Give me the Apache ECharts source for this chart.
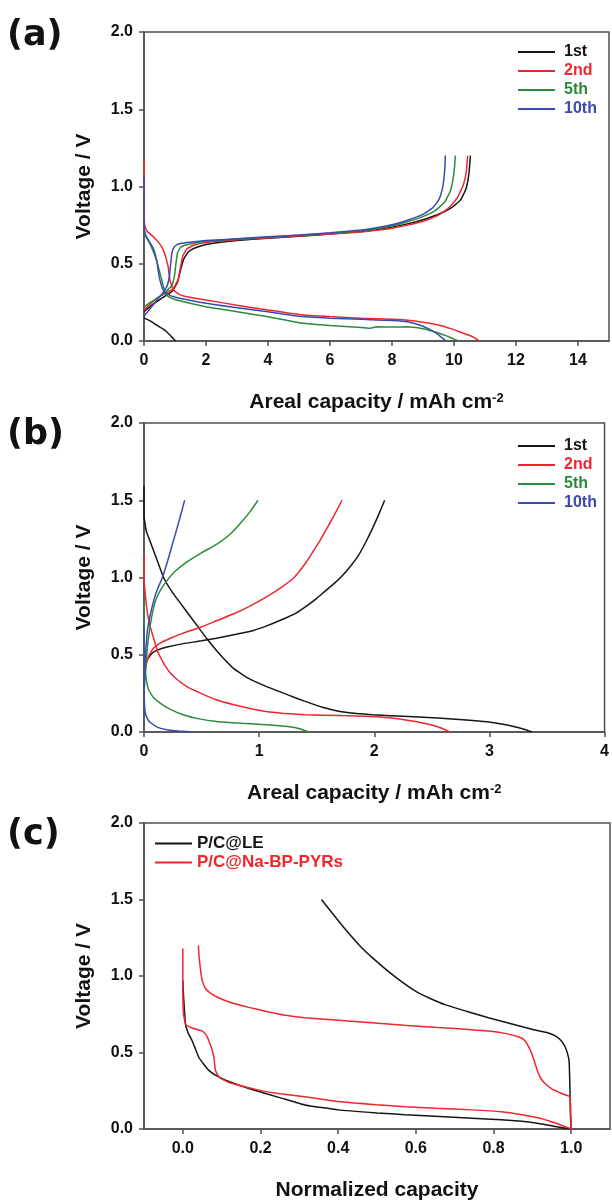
<!DOCTYPE html>
<html><head><meta charset="utf-8">
<script src="https://cdn.jsdelivr.net/npm/echarts@6/dist/echarts.min.js"></script>
<style>html,body{margin:0;padding:0;background:#fff}#c{width:612px;height:1202px}</style>
</head><body><div id="c"></div>
<script>
// ---------- tick labels ----------
var yTicks = [0, 0.5, 1.0, 1.5, 2.0];
var aXTicks = [0, 2, 4, 6, 8, 10, 12, 14];
var bXTicks = [0, 1, 2, 3, 4];
var cXTicks = [0, 0.2, 0.4, 0.6, 0.8, 1.0];

var cycleNames = ['1st', '2nd', '5th', '10th'];
var cNames = ['P/C@LE', 'P/C@Na-BP-PYRs'];

// ---------- panel (a): [capacity mAh/cm2, voltage V] ----------
var a1stDis = [[0,0.15],[0.2,0.13],[0.4,0.104],[0.6,0.08],[0.73,0.06],[0.85,0.035],[0.95,0.015],[1.02,0]];
var a1stChg = [[0,0.19],[0.3,0.24],[0.6,0.28],[0.9,0.32],[1.08,0.38],[1.18,0.46],[1.28,0.53],[1.42,0.575],[1.62,0.6],[2,0.625],[3,0.65],[4,0.665],[5,0.678],[6,0.692],[7,0.708],[7.5,0.72],[8,0.737],[8.5,0.758],[9,0.785],[9.5,0.82],[9.9,0.86],[10.2,0.91],[10.38,0.98],[10.48,1.08],[10.53,1.2]];
var a2ndDis = [[0,1.18],[0,0.9],[0.02,0.75],[0.1,0.71],[0.3,0.675],[0.5,0.63],[0.62,0.59],[0.72,0.53],[0.78,0.48],[0.84,0.39],[0.95,0.33],[1.15,0.3],[1.38,0.287],[2,0.265],[3,0.232],[4,0.2],[5,0.172],[6,0.158],[7,0.148],[8,0.14],[8.5,0.135],[9,0.122],[9.5,0.104],[9.9,0.08],[10.2,0.058],[10.45,0.04],[10.65,0.022],[10.82,0]];
var a2ndChg = [[0,0.2],[0.2,0.24],[0.45,0.28],[0.7,0.31],[0.95,0.34],[1.1,0.4],[1.18,0.48],[1.25,0.55],[1.38,0.595],[1.6,0.62],[2,0.638],[3,0.655],[4,0.667],[5,0.679],[6,0.692],[7,0.705],[7.5,0.716],[8,0.73],[8.5,0.75],[9,0.775],[9.5,0.815],[9.85,0.865],[10.1,0.925],[10.3,1.01],[10.4,1.1],[10.44,1.2]];
var a5thDis = [[0,0.72],[0.05,0.68],[0.19,0.63],[0.3,0.58],[0.41,0.52],[0.5,0.45],[0.58,0.39],[0.68,0.31],[0.8,0.285],[1.05,0.265],[2,0.222],[3,0.19],[4,0.157],[5,0.118],[6,0.1],[7,0.088],[7.3,0.082],[7.5,0.092],[8,0.09],[8.5,0.092],[9,0.08],[9.5,0.052],[9.8,0.03],[10.0,0.012],[10.17,0]];
var a5thChg = [[0,0.22],[0.2,0.25],[0.45,0.28],[0.7,0.32],[0.9,0.36],[0.98,0.42],[1.03,0.5],[1.08,0.57],[1.18,0.607],[1.35,0.622],[2,0.645],[3,0.66],[4,0.672],[5,0.684],[6,0.697],[7,0.713],[7.5,0.727],[8,0.745],[8.5,0.772],[9,0.805],[9.4,0.845],[9.7,0.9],[9.88,0.97],[9.97,1.05],[10.02,1.13],[10.04,1.2]];
var a10thDis = [[0,1.06],[0,0.8],[0.03,0.7],[0.14,0.653],[0.3,0.6],[0.41,0.52],[0.47,0.44],[0.52,0.39],[0.62,0.33],[0.75,0.305],[0.95,0.287],[2,0.244],[3,0.215],[4,0.19],[5,0.16],[6,0.148],[7,0.14],[8,0.132],[8.5,0.124],[9,0.095],[9.3,0.065],[9.5,0.04],[9.65,0.015],[9.74,0]];
var a10thChg = [[0,0.16],[0.2,0.21],[0.4,0.26],[0.6,0.31],[0.75,0.36],[0.82,0.42],[0.86,0.5],[0.9,0.57],[0.98,0.61],[1.1,0.628],[1.4,0.638],[2,0.65],[3,0.662],[4,0.674],[5,0.686],[6,0.7],[7,0.718],[7.5,0.733],[8,0.752],[8.5,0.782],[9,0.82],[9.3,0.86],[9.5,0.91],[9.62,0.98],[9.68,1.06],[9.71,1.14],[9.72,1.2]];

// ---------- panel (b) ----------
var b1stDis = [[0,1.59],[0,1.4],[0.02,1.3],[0.06,1.22],[0.115,1.11],[0.17,1.0],[0.25,0.9],[0.37,0.78],[0.46,0.69],[0.55,0.6],[0.65,0.51],[0.78,0.41],[0.9,0.35],[1.06,0.295],[1.25,0.24],[1.4,0.198],[1.55,0.16],[1.69,0.135],[1.85,0.12],[1.98,0.112],[2.3,0.1],[2.55,0.09],[2.8,0.078],[2.98,0.066],[3.12,0.05],[3.21,0.036],[3.3,0.018],[3.37,0]];
var b1stChg = [[0,0.3],[0.01,0.4],[0.03,0.47],[0.07,0.51],[0.115,0.53],[0.2,0.55],[0.34,0.572],[0.5,0.59],[0.63,0.607],[0.8,0.632],[0.95,0.657],[1.06,0.685],[1.2,0.728],[1.32,0.77],[1.42,0.82],[1.5,0.865],[1.57,0.91],[1.65,0.96],[1.72,1.01],[1.79,1.07],[1.86,1.14],[1.92,1.22],[1.98,1.31],[2.04,1.41],[2.09,1.5]];
var b2ndDis = [[0,1.15],[0,1.0],[0.01,0.9],[0.03,0.77],[0.055,0.68],[0.086,0.6],[0.12,0.52],[0.17,0.446],[0.22,0.39],[0.29,0.338],[0.38,0.29],[0.49,0.252],[0.62,0.21],[0.78,0.176],[0.92,0.152],[1.06,0.133],[1.2,0.122],[1.4,0.112],[1.7,0.106],[1.98,0.1],[2.15,0.09],[2.26,0.08],[2.4,0.062],[2.49,0.047],[2.58,0.026],[2.66,0]];
var b2ndChg = [[0,0.3],[0.01,0.4],[0.04,0.49],[0.08,0.54],[0.14,0.575],[0.24,0.61],[0.34,0.64],[0.5,0.68],[0.63,0.72],[0.78,0.765],[0.92,0.815],[1.06,0.873],[1.2,0.94],[1.29,0.99],[1.35,1.04],[1.41,1.1],[1.47,1.17],[1.53,1.24],[1.59,1.32],[1.65,1.4],[1.72,1.5]];
var b5thDis = [[0,0.88],[0,0.6],[0.01,0.42],[0.02,0.34],[0.04,0.273],[0.08,0.225],[0.14,0.187],[0.22,0.15],[0.34,0.112],[0.48,0.085],[0.63,0.068],[0.85,0.056],[1.06,0.047],[1.25,0.035],[1.36,0.02],[1.43,0]];
var b5thChg = [[0,0.25],[0.01,0.36],[0.02,0.46],[0.03,0.553],[0.05,0.67],[0.073,0.77],[0.1,0.85],[0.144,0.92],[0.2,0.98],[0.27,1.04],[0.37,1.1],[0.5,1.16],[0.63,1.215],[0.74,1.275],[0.83,1.345],[0.92,1.425],[0.99,1.5]];
var b10thDis = [[0,0.68],[0,0.35],[0.003,0.2],[0.01,0.13],[0.03,0.085],[0.06,0.058],[0.12,0.03],[0.2,0.015],[0.3,0.006],[0.43,0]];
var b10thChg = [[0,0.25],[0.005,0.4],[0.015,0.52],[0.03,0.66],[0.055,0.76],[0.086,0.855],[0.12,0.93],[0.16,1.0],[0.21,1.12],[0.26,1.25],[0.31,1.38],[0.353,1.5]];

// ---------- panel (c): [normalized capacity, voltage V] ----------
var cLEDis = [[0,0.97],[0.002,0.86],[0.007,0.684],[0.015,0.62],[0.024,0.577],[0.041,0.469],[0.055,0.42],[0.067,0.383],[0.085,0.35],[0.11,0.319],[0.17,0.265],[0.256,0.2],[0.314,0.157],[0.4,0.125],[0.5,0.105],[0.572,0.093],[0.65,0.083],[0.744,0.071],[0.82,0.06],[0.873,0.05],[0.92,0.035],[0.959,0.017],[0.997,0]];
var cLEChg = [[1.0,0],[0.998,0.1],[0.997,0.25],[0.996,0.35],[0.995,0.43],[0.993,0.47],[0.985,0.534],[0.975,0.575],[0.959,0.609],[0.935,0.632],[0.899,0.652],[0.85,0.685],[0.787,0.727],[0.73,0.77],[0.675,0.813],[0.64,0.85],[0.6,0.9],[0.565,0.96],[0.529,1.03],[0.49,1.115],[0.455,1.2],[0.42,1.3],[0.385,1.41],[0.357,1.5]];
var cNaDis = [[0,1.18],[0,0.9],[0.002,0.75],[0.007,0.684],[0.024,0.66],[0.05,0.64],[0.06,0.615],[0.067,0.577],[0.075,0.52],[0.08,0.469],[0.084,0.383],[0.093,0.34],[0.11,0.315],[0.127,0.297],[0.196,0.254],[0.25,0.23],[0.314,0.211],[0.4,0.179],[0.5,0.158],[0.572,0.146],[0.65,0.136],[0.744,0.125],[0.82,0.112],[0.873,0.093],[0.92,0.07],[0.959,0.039],[0.985,0.015],[1.0,0]];
var cNaChg = [[1.0,0],[0.999,0.1],[0.998,0.19],[0.997,0.211],[0.976,0.232],[0.95,0.262],[0.933,0.297],[0.922,0.33],[0.916,0.361],[0.908,0.42],[0.899,0.49],[0.89,0.54],[0.881,0.577],[0.869,0.598],[0.83,0.625],[0.787,0.641],[0.72,0.653],[0.658,0.663],[0.57,0.678],[0.486,0.695],[0.4,0.71],[0.314,0.727],[0.26,0.745],[0.213,0.77],[0.17,0.795],[0.127,0.824],[0.093,0.856],[0.07,0.89],[0.058,0.92],[0.05,0.97],[0.046,1.03],[0.042,1.12],[0.04,1.2]];

// ---------- styling ----------
var COL = {'1st':'#151515','2nd':'#f0262c','5th':'#2b8a3b','10th':'#3b48b0','P/C@LE':'#151515','P/C@Na-BP-PYRs':'#f0262c'};
var AX = '#505050';
var FONT = 'Liberation Sans, Arial, sans-serif';

function fmt1(v){ return v.toFixed(1); }

function xAxisCfg(grid, min, max, ticks, name, labelFmt){
  return {
    type:'value', gridIndex:grid, min:min, max:max,
    name:name, nameLocation:'middle', nameGap:51,
    nameTextStyle:{fontFamily:FONT, fontWeight:'bold', fontSize:21, color:'#111',
      rich:{sup:{fontFamily:FONT, fontWeight:'bold', fontSize:13, color:'#111', verticalAlign:'top', lineHeight:13}}},
    axisLine:{show:true, onZero:false, lineStyle:{color:AX, width:1.5}},
    axisTick:{show:true, length:5, customValues:ticks, lineStyle:{color:AX, width:1.5}},
    axisLabel:{customValues:ticks, formatter:labelFmt, margin:12, fontFamily:FONT, fontWeight:'bold', fontSize:16, color:'#111'},
    splitLine:{show:false}
  };
}
function yAxisCfg(grid){
  return {
    type:'value', gridIndex:grid, min:0, max:2,
    name:'Voltage / V', nameLocation:'middle', nameGap:49,
    nameTextStyle:{fontFamily:FONT, fontWeight:'bold', fontSize:21, color:'#111'},
    axisLine:{show:true, onZero:false, lineStyle:{color:AX, width:1.5}},
    axisTick:{show:true, length:5, customValues:yTicks, lineStyle:{color:AX, width:1.5}},
    axisLabel:{customValues:yTicks, formatter:fmt1, margin:11, fontFamily:FONT, fontWeight:'bold', fontSize:16, color:'#111'},
    splitLine:{show:false}
  };
}
function ser(name, data, ai){
  return {type:'line', name:name, data:data, xAxisIndex:ai, yAxisIndex:ai,
    symbol:'none', showSymbol:false, smooth:0.12, clip:true,
    lineStyle:{color:COL[name], width:1.5}, itemStyle:{color:COL[name]}};
}
function legendCfg(names, left, top, gap, fs, pad){
  return {
    orient:'vertical', left:left, top:top, itemGap:gap, icon:'rect', itemWidth:37, itemHeight:2,
    itemStyle:{borderWidth:0},
    data:names.map(function(n){ return {name:n, textStyle:{color:COL[n]}}; }),
    textStyle:{fontFamily:FONT, fontWeight:'bold', fontSize:fs, padding:[0,0,0,pad]}
  };
}

var series = [
  ser('1st', a1stDis, 0), ser('1st', a1stChg, 0),
  ser('2nd', a2ndDis, 0), ser('2nd', a2ndChg, 0),
  ser('5th', a5thDis, 0), ser('5th', a5thChg, 0),
  ser('10th', a10thDis, 0), ser('10th', a10thChg, 0),
  ser('1st', b1stDis, 1), ser('1st', b1stChg, 1),
  ser('2nd', b2ndDis, 1), ser('2nd', b2ndChg, 1),
  ser('5th', b5thDis, 1), ser('5th', b5thChg, 1),
  ser('10th', b10thDis, 1), ser('10th', b10thChg, 1),
  ser('P/C@LE', cLEDis, 2), ser('P/C@LE', cLEChg, 2),
  ser('P/C@Na-BP-PYRs', cNaDis, 2), ser('P/C@Na-BP-PYRs', cNaChg, 2)
];

var arealName = 'Areal capacity / mAh cm{sup|-2}';
var option = {
  animation:false,
  backgroundColor:'#fff',
  grid:[
    {left:144, top:32, width:465, height:309, show:true, borderColor:AX, borderWidth:1.5, backgroundColor:'transparent'},
    {left:144, top:423, width:464, height:309, show:true, borderColor:AX, borderWidth:1.5, backgroundColor:'transparent'},
    {left:144, top:823, width:466, height:310, show:true, borderColor:AX, borderWidth:1.5, backgroundColor:'transparent'}
  ],
  xAxis:[
    xAxisCfg(0, 0, 15, aXTicks, arealName, function(v){return String(v);}),
    xAxisCfg(1, 0, 4, bXTicks, arealName, function(v){return String(v);}),
    xAxisCfg(2, -0.1, 1.1, cXTicks, 'Normalized capacity', fmt1)
  ],
  yAxis:[yAxisCfg(0), yAxisCfg(1), yAxisCfg(2)],
  legend:[
    legendCfg(cycleNames, 513, 39, 3, 16, 4),
    legendCfg(cycleNames, 513, 433, 3, 16, 4),
    legendCfg(cNames, 150, 830, 2, 17, 0)
  ],
  graphic:[
    {type:'text', left:7, top:18, style:{text:'(a)', font:'bold 35px "DejaVu Sans"', fill:'#111'}},
    {type:'text', left:7, top:417, style:{text:'(b)', font:'bold 35px "DejaVu Sans"', fill:'#111'}},
    {type:'text', left:7, top:817, style:{text:'(c)', font:'bold 35px "DejaVu Sans"', fill:'#111'}}
  ],
  series:series
};
var chart = echarts.init(document.getElementById('c'), null, {renderer:'canvas'});
chart.setOption(option);
</script></body></html>
